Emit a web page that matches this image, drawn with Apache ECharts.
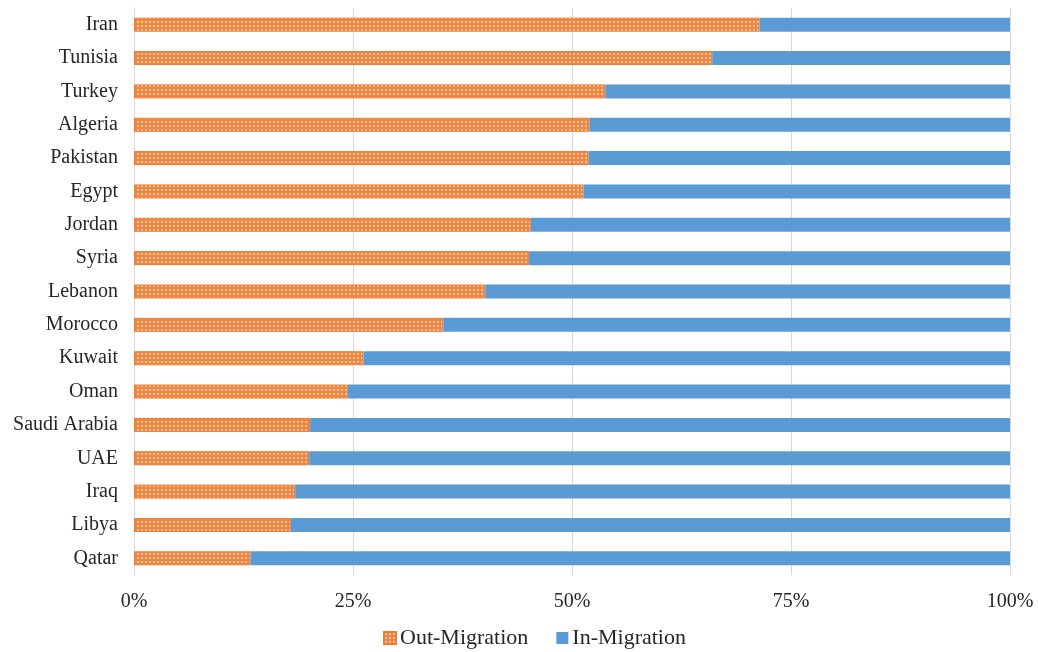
<!DOCTYPE html>
<html>
<head>
<meta charset="utf-8">
<script src="https://cdn.jsdelivr.net/npm/echarts@6/dist/echarts.min.js"></script>
<style>html,body{margin:0;padding:0;background:#fff}#c{width:1038px;height:652px}</style>
</head>
<body>
<div id="c"></div>
<script>
const categories = ['Iran','Tunisia','Turkey','Algeria','Pakistan','Egypt','Jordan','Syria','Lebanon','Morocco','Kuwait','Oman','Saudi Arabia','UAE','Iraq','Libya','Qatar'];
const outMigration = [71.4,66.0,53.8,52.0,51.9,51.3,45.3,45.1,40.1,35.3,26.2,24.4,20.1,20.0,18.4,17.9,13.3];
const inMigration = outMigration.map(v => +(100 - v).toFixed(1));
const tickLabels = ['0%','25%','50%','75%','100%'];

function makePattern(){
  const c = document.createElement('canvas');
  c.width = 4; c.height = 4;
  const g = c.getContext('2d');
  g.fillStyle = '#EF8743';
  g.fillRect(0,0,4,4);
  g.fillStyle = '#F9C39E';
  g.fillRect(1,1,2,2);
  return c;
}
const pat = {image: makePattern(), repeat: 'repeat'};

const chart = echarts.init(document.getElementById('c'));
chart.setOption({
  animation: false,
  textStyle: {fontFamily: '"Liberation Serif", "Times New Roman", serif'},
  grid: {left: 134, right: 28, top: 8, bottom: 77, containLabel: false},
  legend: {
    top: 622, left: 378,
    itemWidth: 12, itemHeight: 12, itemGap: 28,
    icon: 'rect',
    textStyle: {fontSize: 22, color: '#262626', fontFamily: '"Liberation Serif", serif', padding: [0,0,0,-1]},
    data: ['Out-Migration','In-Migration']
  },
  xAxis: {
    type: 'value', min: 0, max: 100, interval: 25,
    axisLine: {show: false}, axisTick: {show: false},
    splitLine: {show: true, lineStyle: {color: '#d9d9d9', width: 1}},
    axisLabel: {fontSize: 20, color: '#262626', margin: 17,
      formatter: v => tickLabels[Math.round(v/25)]}
  },
  yAxis: {
    type: 'category', data: categories, inverse: true,
    axisLine: {show: true, lineStyle: {color: '#d9d9d9'}},
    axisTick: {show: false},
    axisLabel: {fontSize: 20, color: '#262626', margin: 16, padding: [2,0,0,0]}
  },
  series: [
    {name: 'Out-Migration', type: 'bar', stack: 'a', data: outMigration, barWidth: 14,
     itemStyle: {color: pat, borderColor: '#ED7D31', borderWidth: 1}},
    {name: 'In-Migration', type: 'bar', stack: 'a', data: inMigration, barWidth: 14,
     itemStyle: {color: '#5B9BD5'}}
  ]
});
</script>
</body>
</html>
